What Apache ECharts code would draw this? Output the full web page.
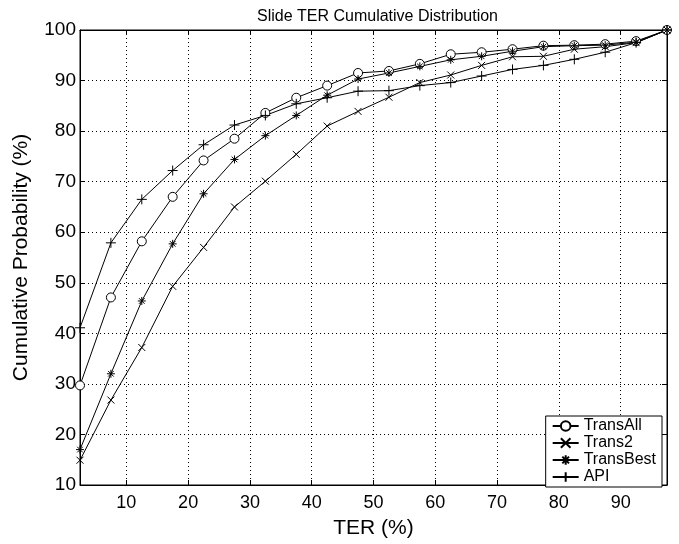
<!DOCTYPE html>
<html><head><meta charset="utf-8">
<script src="https://cdn.jsdelivr.net/npm/echarts@6/dist/echarts.min.js"></script>
<style>html,body{margin:0;padding:0;background:#fff}#c{width:679px;height:544px}</style>
</head><body><div id="c"></div>
<script>
const terValues = [2.5,7.5,12.5,17.5,22.5,27.5,32.5,37.5,42.5,47.5,52.5,57.5,62.5,67.5,72.5,77.5,82.5,87.5,92.5,97.5];
const transAll  = [29.7,47.1,58.2,67.0,74.2,78.5,83.6,86.6,89.0,91.5,91.9,93.3,95.2,95.6,96.2,96.9,97.0,97.2,97.8,100];
const trans2    = [14.9,26.8,37.2,49.3,57.0,65.0,70.1,75.4,81.0,83.9,86.7,89.6,91.1,93.0,94.7,94.8,96.2,96.7,97.5,100];
const transBest = [17.0,32.0,46.4,57.7,67.6,74.4,79.1,83.1,87.1,90.3,91.5,92.8,94.1,94.8,95.8,96.7,96.9,97.0,97.6,100];
const api       = [41.1,57.9,66.5,72.2,77.3,81.2,83.1,85.4,86.6,87.9,88.0,89.0,89.6,90.9,92.2,93.0,94.2,95.6,97.5,100];
const seriesNames = ['TransAll','Trans2','TransBest','API'];
const yTicks = [10,20,30,40,50,60,70,80,90,100];

const FONT = 'Liberation Sans';
const pts = arr => terValues.map((x,i)=>[x,arr[i]]);
const SYM = {
  TransAll: {symbol:'circle', size:9},
  Trans2: {symbol:'path://M0,0L10,10M10,0L0,10', size:7},
  TransBest: {symbol:'path://M5,0L5,10M0,5L10,5M1.5,1.5L8.5,8.5M8.5,1.5L1.5,8.5', size:8},
  API: {symbol:'path://M5,0L5,10M0,5L10,5', size:10}
};
const dataMap = {TransAll:transAll, Trans2:trans2, TransBest:transBest, API:api};

const chart = echarts.init(document.getElementById('c'));
const xBase = {
  type:'value', min:terValues[0], max:terValues[terValues.length-1],
  splitNumber:10, minInterval:10, maxInterval:10
};
chart.setOption({
  animation:false,
  backgroundColor:'#fff',
  textStyle:{fontFamily:FONT},
  title:{text:'Slide TER Cumulative Distribution', left:252, top:4,
    textStyle:{fontFamily:FONT, fontSize:16, fontWeight:'normal', color:'#000'}},
  grid:{left:80, top:30, right:12, bottom:51, show:true, borderColor:'#000', borderWidth:1, backgroundColor:'#fff'},
  xAxis:[Object.assign({}, xBase, {
    position:'bottom', name:'TER (%)', nameLocation:'middle', nameGap:33,
    nameTextStyle:{fontFamily:FONT, fontSize:21, color:'#000'},
    axisLine:{lineStyle:{color:'#000'}},
    axisTick:{inside:true, length:5, lineStyle:{color:'#000'}},
    axisLabel:{fontFamily:FONT, fontSize:18, color:'#000', margin:9, showMinLabel:false, showMaxLabel:false},
    splitLine:{show:true, lineStyle:{color:'#000', type:[1,3], width:1}}
  }), Object.assign({}, xBase, {
    position:'top',
    axisLine:{lineStyle:{color:'#000'}},
    axisTick:{inside:true, length:5, lineStyle:{color:'#000'}},
    axisLabel:{show:false}, splitLine:{show:false}
  })],
  yAxis:[{
    type:'value', min:yTicks[0], max:yTicks[yTicks.length-1], interval:10, position:'left',
    name:'Cumulative Probability (%)', nameLocation:'middle', nameGap:48,
    nameTextStyle:{fontFamily:FONT, fontSize:21, color:'#000'},
    axisLine:{show:true, lineStyle:{color:'#000'}},
    axisTick:{show:true, inside:true, length:5, lineStyle:{color:'#000'}},
    axisLabel:{fontFamily:FONT, fontSize:19, color:'#000', margin:4},
    splitLine:{show:true, lineStyle:{color:'#000', type:[1,3], width:1}}
  },{
    type:'value', min:yTicks[0], max:yTicks[yTicks.length-1], interval:10, position:'right',
    axisLine:{show:true, lineStyle:{color:'#000'}},
    axisTick:{show:true, inside:true, length:5, lineStyle:{color:'#000'}},
    axisLabel:{show:false}, splitLine:{show:false}
  }],
  legend:{
    orient:'vertical', right:17, bottom:57, backgroundColor:'#fff',
    borderColor:'#000', borderWidth:1, borderRadius:0, padding:[2,6,2,6],
    itemGap:1, itemWidth:26, itemHeight:12,
    textStyle:{fontFamily:FONT, fontSize:16, color:'#000'},
    data:seriesNames
  },
  series:seriesNames.map(n=>({
    name:n, type:'line', xAxisIndex:0, yAxisIndex:0,
    data:pts(dataMap[n]), symbol:SYM[n].symbol, symbolSize:SYM[n].size,
    showAllSymbol:true, clip:false,
    lineStyle:{color:'#000', width:1},
    itemStyle: n==='TransAll' ? {color:'#fff', borderColor:'#000', borderWidth:1}
      : {color:'transparent', borderColor:'#000', borderWidth:1},
    emphasis:{disabled:true}
  }))
});
</script></body></html>
